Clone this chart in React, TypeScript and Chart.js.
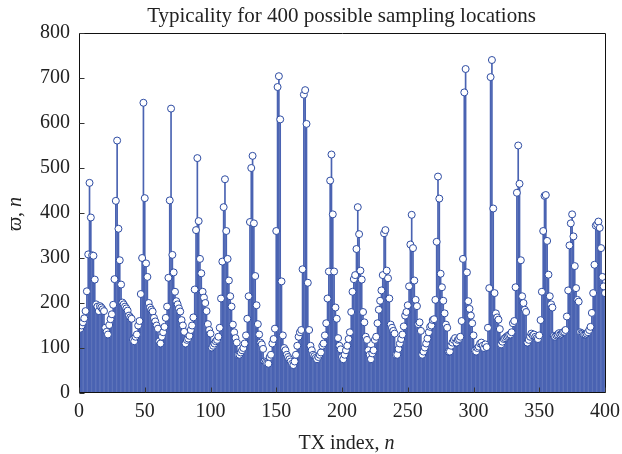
import React, { useEffect, useRef } from 'react';
import { Chart, registerables } from 'chart.js';

Chart.register(...registerables);

// Typicality values, TX index 1..400, in blocks of 20
const block00 = [143, 150, 157, 166, 182, 226, 308, 467, 390, 306, 305, 252, 197, 192, 182, 193, 190, 186, 182, 145];
const block01 = [136, 130, 151, 164, 175, 196, 253, 427, 561, 365, 295, 241, 201, 197, 192, 188, 183, 172, 168, 165];
const block02 = [118, 115, 125, 130, 150, 160, 220, 300, 645, 433, 288, 258, 200, 190, 185, 181, 167, 159, 150, 143];
const block03 = [115, 110, 125, 135, 147, 167, 192, 256, 428, 632, 307, 268, 225, 204, 197, 188, 181, 162, 150, 136];
const block04 = [110, 118, 121, 127, 140, 150, 168, 230, 362, 522, 382, 298, 266, 225, 212, 200, 182, 153, 140, 132];
const block05 = [101, 105, 110, 115, 118, 125, 145, 210, 292, 413, 475, 360, 298, 250, 215, 192, 152, 135, 122, 112];
const block06 = [85, 85, 90, 95, 100, 110, 128, 165, 215, 380, 500, 527, 377, 260, 195, 153, 130, 112, 108, 98];
const block07 = [70, 68, 66, 65, 80, 85, 110, 120, 143, 360, 680, 704, 608, 248, 128, 100, 95, 85, 80, 75];
const block08 = [70, 65, 62, 70, 85, 105, 125, 135, 140, 275, 663, 673, 598, 245, 140, 105, 95, 85, 82, 78];
const block09 = [75, 80, 85, 90, 105, 110, 128, 155, 210, 270, 472, 530, 397, 270, 190, 165, 122, 105, 97, 80];
const block10 = [75, 85, 95, 105, 120, 135, 180, 225, 253, 262, 320, 413, 353, 272, 252, 180, 157, 125, 118, 95];
const block11 = [85, 75, 88, 95, 118, 125, 155, 185, 205, 228, 262, 355, 362, 272, 255, 210, 152, 145, 138, 132];
const block12 = [85, 85, 98, 110, 120, 130, 148, 172, 180, 195, 237, 330, 396, 322, 250, 207, 193, 153, 157, 138];
const block13 = [85, 92, 101, 110, 121, 135, 147, 150, 162, 164, 207, 336, 481, 432, 265, 235, 205, 177, 152, 145];
const block14 = [92, 92, 105, 112, 118, 122, 112, 118, 120, 125, 160, 298, 668, 720, 268, 204, 187, 172, 155, 128];
const block15 = [94, 92, 100, 103, 110, 112, 105, 100, 108, 102, 145, 233, 702, 740, 410, 222, 177, 168, 163, 142];
const block16 = [108, 114, 120, 122, 125, 127, 129, 130, 135, 155, 160, 235, 445, 550, 465, 295, 215, 200, 185, 180];
const block17 = [112, 118, 125, 132, 128, 130, 125, 122, 120, 128, 162, 225, 360, 438, 440, 338, 263, 215, 197, 190];
const block18 = [127, 125, 128, 130, 133, 130, 132, 135, 136, 140, 170, 228, 328, 377, 397, 348, 282, 233, 207, 203];
const block19 = [135, 133, 132, 130, 130, 132, 135, 140, 147, 178, 222, 285, 372, 375, 381, 367, 322, 258, 237, 222];

const blocks = [
  block00, block01, block02, block03, block04, block05, block06, block07, block08, block09,
  block10, block11, block12, block13, block14, block15, block16, block17, block18, block19,
];
const typicality: number[] = blocks.flat();
const txIndex: number[] = typicality.map((_, i) => i + 1);

const xTicks = [0, 50, 100, 150, 200, 250, 300, 350, 400];
const yTicks = [0, 100, 200, 300, 400, 500, 600, 700, 800];

const titleText = 'Typicality for 400 possible sampling locations';
const xTitleMain = 'TX index, ';
const xTitleItalic = 'n';
const yTitleOmega = 'ϖ';
const yTitleRest = ', ';
const yTitleItalic = 'n';

const SERIF = '"Liberation Serif", "DejaVu Serif", serif';
const STEM = '#4a63b2';
const MARK = '#2d4ba2';

const decorPlugin = {
  id: 'decor',
  afterDatasetsDraw(chart: any) {
    const { ctx, chartArea: a, scales } = chart;
    ctx.save();
    // frame
    ctx.strokeStyle = '#111';
    ctx.lineWidth = 1;
    const l = Math.round(a.left) + 0.5;
    const t = Math.round(a.top) + 0.5;
    const r = Math.round(a.right) + 0.5;
    const b = Math.round(a.bottom) - 0.5;
    ctx.beginPath();
    ctx.rect(l, t, r - l, b - t);
    ctx.stroke();
    // inward ticks
    ctx.strokeStyle = '#333';
    ctx.beginPath();
    for (const v of yTicks) {
      const y = Math.round(scales.y.getPixelForValue(v)) + 0.5;
      ctx.moveTo(l, y);
      ctx.lineTo(l + 5, y);
    }
    for (const v of xTicks) {
      const x = Math.round(scales.x.getPixelForValue(v)) + 0.5;
      ctx.moveTo(x, b);
      ctx.lineTo(x, b - 5);
    }
    ctx.stroke();

    ctx.fillStyle = '#222';
    ctx.textBaseline = 'alphabetic';
    // title
    ctx.font = `21px ${SERIF}`;
    ctx.textAlign = 'center';
    ctx.fillText(titleText, 341.5, 22);

    // x title with italic n
    ctx.textAlign = 'left';
    const fMain = `20px ${SERIF}`;
    const fIt = `italic 20px ${SERIF}`;
    ctx.font = fMain;
    const w1 = ctx.measureText(xTitleMain).width;
    ctx.font = fIt;
    const w2 = ctx.measureText(xTitleItalic).width;
    const x0 = 346.5 - (w1 + w2) / 2;
    ctx.font = fMain;
    ctx.fillText(xTitleMain, x0, 449);
    ctx.font = fIt;
    ctx.fillText(xTitleItalic, x0 + w1, 449);

    // y title rotated
    ctx.translate(21, 214);
    ctx.rotate(-Math.PI / 2);
    ctx.font = fIt;
    const o1 = ctx.measureText(yTitleOmega).width;
    ctx.font = fMain;
    const o2 = ctx.measureText(yTitleRest).width;
    ctx.font = fIt;
    const o3 = ctx.measureText(yTitleItalic).width;
    const y0 = -(o1 + o2 + o3) / 2;
    ctx.font = fIt;
    ctx.fillText(yTitleOmega, y0, 0);
    ctx.font = fMain;
    ctx.fillText(yTitleRest, y0 + o1, 0);
    ctx.font = fIt;
    ctx.fillText(yTitleItalic, y0 + o1 + o2, 0);
    ctx.restore();
  },
};

export default function App() {
  const ref = useRef<HTMLCanvasElement | null>(null);
  useEffect(() => {
    document.body.style.margin = '0';
    const canvas = ref.current;
    if (!canvas) return;
    const points = txIndex.map((x, i) => ({ x, y: typicality[i] }));
    const chart = new Chart(canvas, {
      type: 'bar',
      data: {
        datasets: [
          {
            type: 'scatter',
            label: 'markers',
            data: points,
            pointRadius: 3.5,
            pointBorderWidth: 1,
            pointBorderColor: MARK,
            pointBackgroundColor: '#ffffff',
            borderColor: MARK,
            backgroundColor: '#ffffff',
            order: 1,
          } as any,
          {
            type: 'bar',
            label: 'stems',
            data: points,
            backgroundColor: STEM,
            borderWidth: 0,
            barThickness: 1,
            order: 2,
          } as any,
        ],
      },
      options: {
        responsive: false,
        animation: false,
        devicePixelRatio: 1,
        layout: { padding: { top: 33, right: 17, bottom: 0, left: 0 } },
        plugins: {
          legend: { display: false },
          title: { display: false },
          tooltip: { enabled: false },
        },
        scales: {
          x: {
            type: 'linear',
            min: 0,
            max: 400,
            offset: false,
            grid: { display: false, drawTicks: false },
            border: { display: false },
            afterFit: (s: any) => { s.height = 61; s.paddingLeft = 0; s.paddingRight = 0; },
            afterBuildTicks: (s: any) => { s.ticks = xTicks.map((v) => ({ value: v })); },
            ticks: {
              padding: 7,
              color: '#222',
              font: { family: SERIF, size: 20 },
              maxRotation: 0,
              autoSkip: false,
            },
          },
          y: {
            type: 'linear',
            min: 0,
            max: 800,
            grid: { display: false, drawTicks: false },
            border: { display: false },
            afterFit: (s: any) => { s.width = 79; s.paddingTop = 0; s.paddingBottom = 0; },
            afterBuildTicks: (s: any) => { s.ticks = yTicks.map((v) => ({ value: v })); },
            ticks: {
              padding: 9,
              color: '#222',
              font: { family: SERIF, size: 20 },
              autoSkip: false,
            },
          },
        },
      },
      plugins: [decorPlugin],
    });
    return () => chart.destroy();
  }, []);
  return (
    <div style={{ width: 622, height: 454 }}>
      <canvas ref={ref} width={622} height={454} style={{ display: 'block' }} />
    </div>
  );
}
